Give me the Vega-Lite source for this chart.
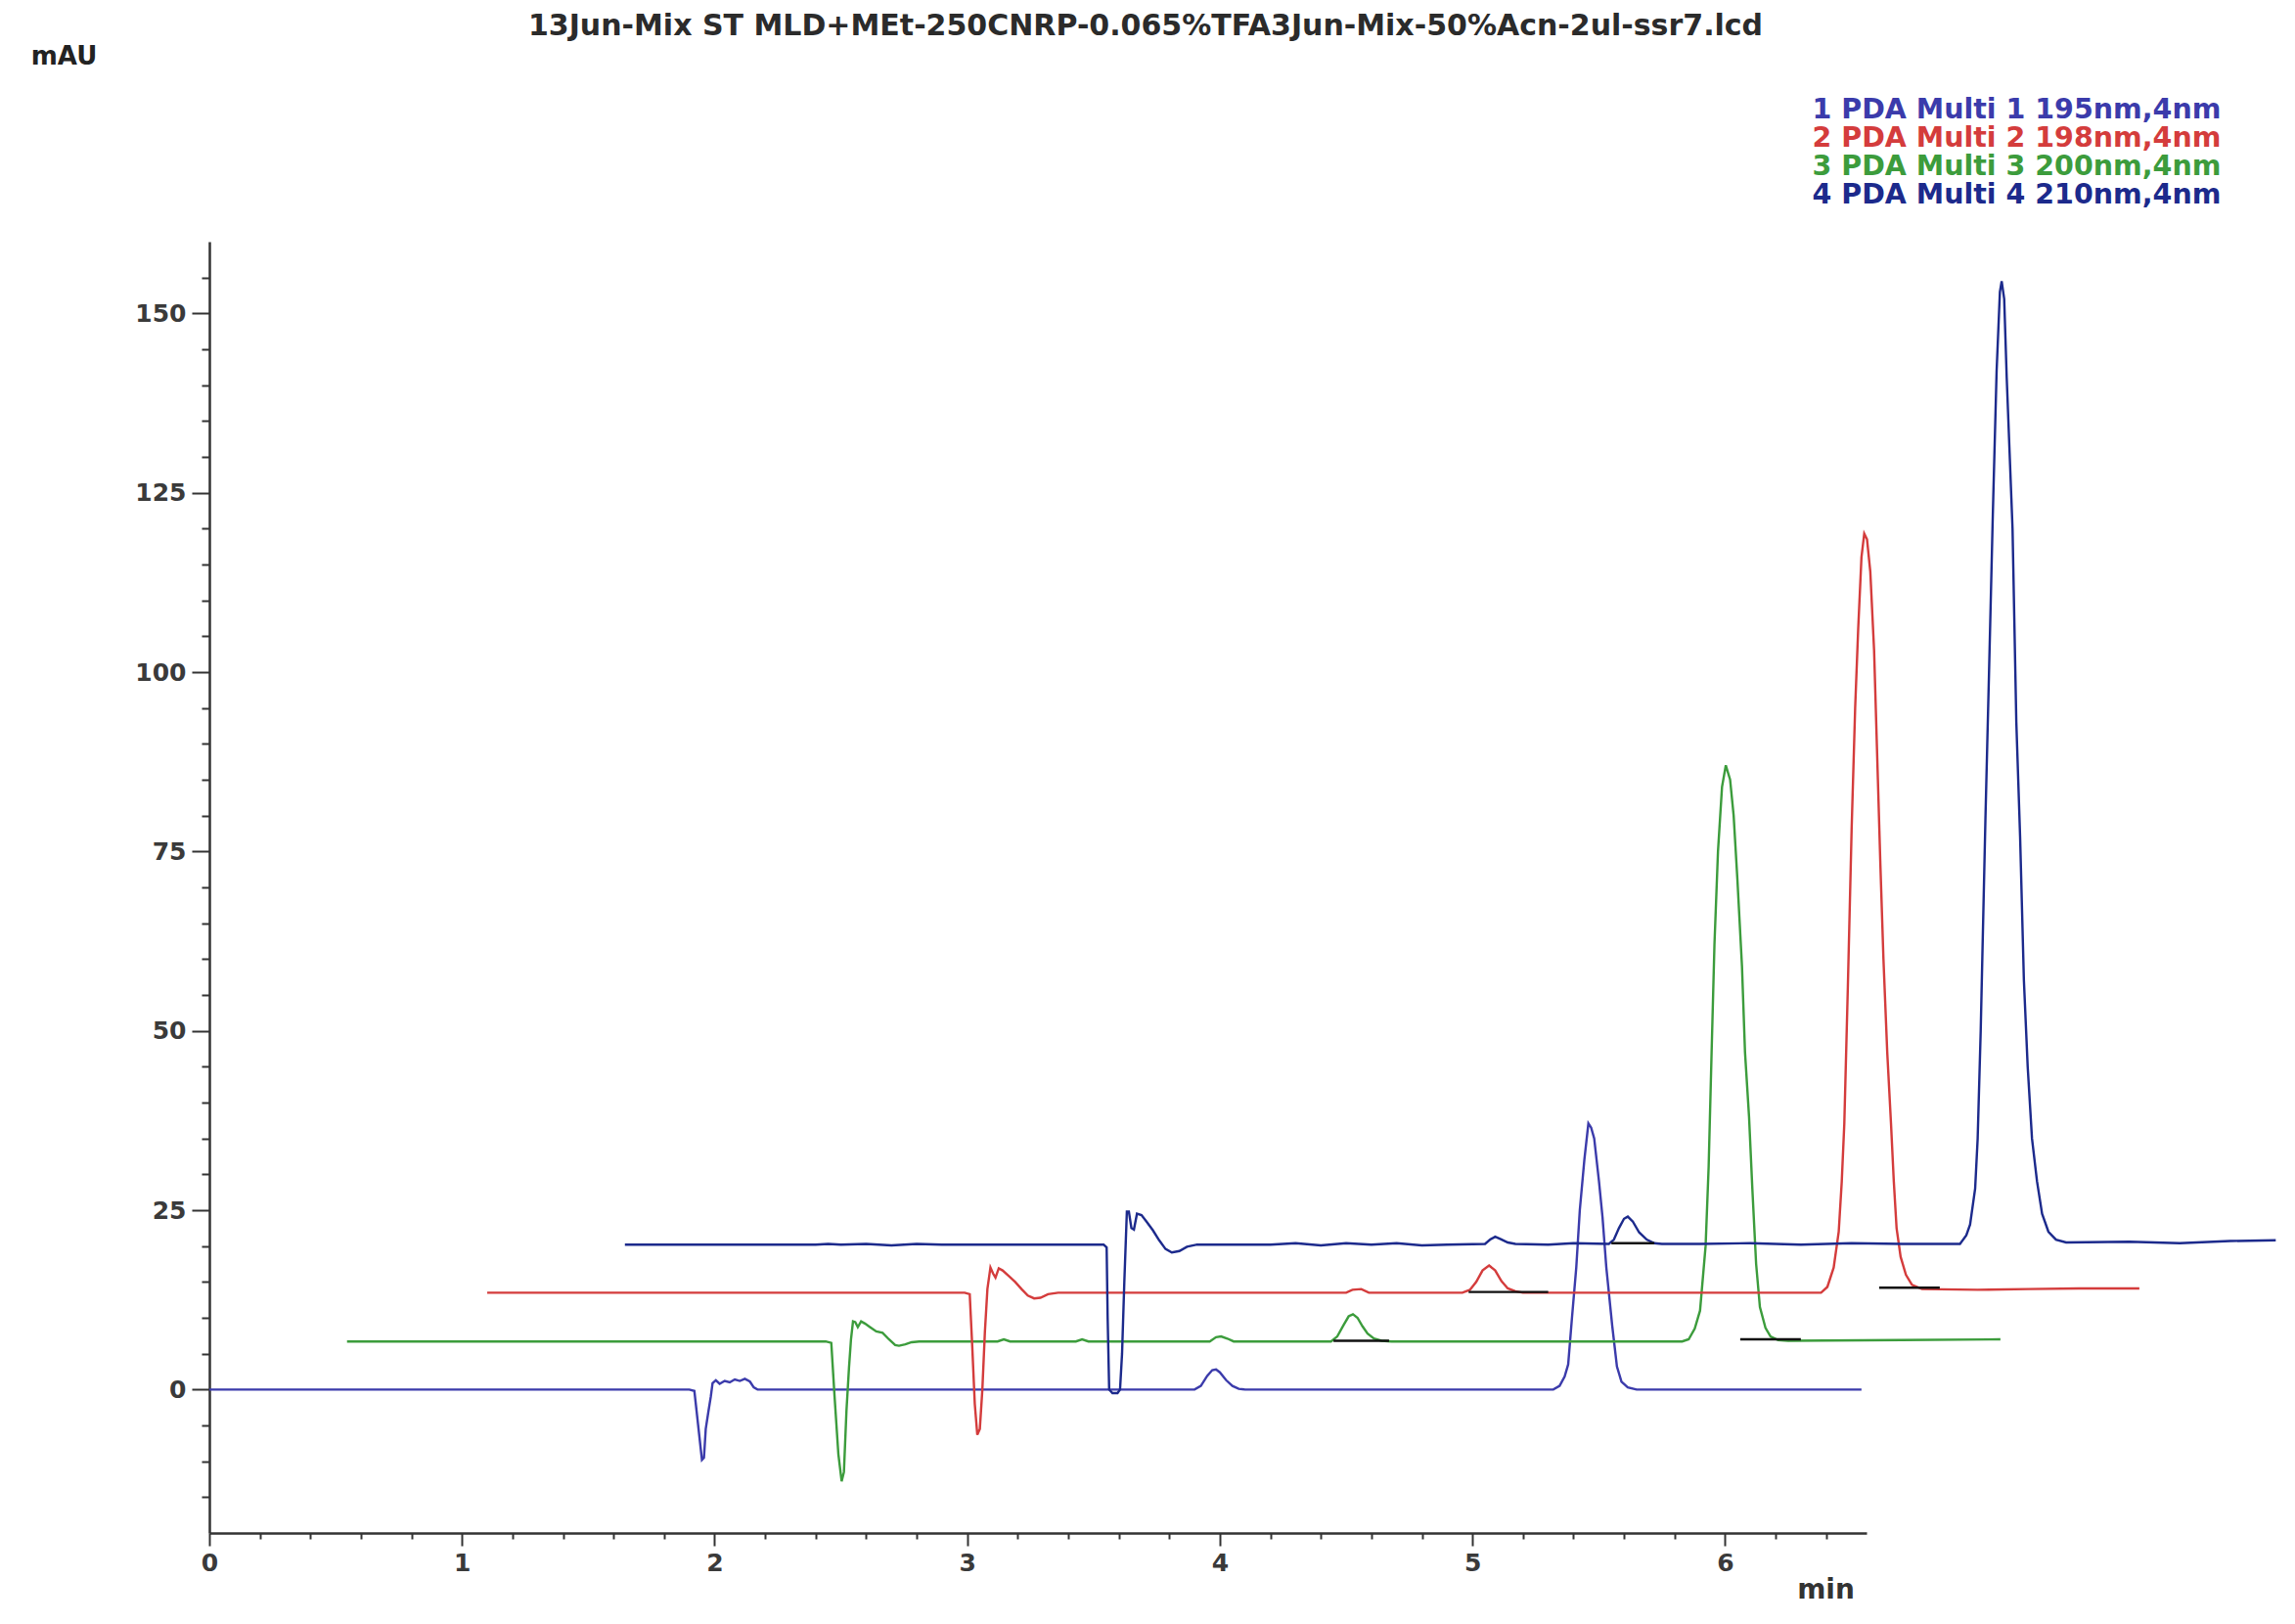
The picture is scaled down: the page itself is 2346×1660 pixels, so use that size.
{
"$schema": "https://vega.github.io/schema/vega-lite/v6.json",
"width": 1694, "height": 1320,
"autosize": {"type": "none"},
"padding": {"left": 214, "top": 247, "right": 438, "bottom": 93},
"background": "white",
"config": {"view": {"stroke": null}, "axis": {"labelOverlap": false, "labelSeparation": 0}},
"title": {"text": "13Jun-Mix ST MLD+MEt-250CNRP-0.065%TFA3Jun-Mix-50%Acn-2ul-ssr7.lcd", "font": "DejaVu Sans", "fontSize": 30, "fontWeight": "bold", "color": "#2b2b2b", "anchor": "middle", "frame": "group", "dx": 110, "offset": 2},
"data": {"values": [
{"s":"1","t":0,"v":0},{"s":"1","t":0.6,"v":0},{"s":"1","t":1.2,"v":0},{"s":"1","t":1.9,"v":0},{"s":"1","t":1.92,"v":-0.2},{"s":"1","t":1.935,"v":-5},{"s":"1","t":1.95,"v":-9.8},{"s":"1","t":1.958,"v":-9.5},{"s":"1","t":1.965,"v":-5.5},{"s":"1","t":1.975,"v":-3.2},{"s":"1","t":1.985,"v":-1},{"s":"1","t":1.992,"v":0.9},{"s":"1","t":2.005,"v":1.3},{"s":"1","t":2.02,"v":0.8},{"s":"1","t":2.04,"v":1.2},{"s":"1","t":2.06,"v":1.0},{"s":"1","t":2.08,"v":1.4},{"s":"1","t":2.1,"v":1.2},{"s":"1","t":2.12,"v":1.5},{"s":"1","t":2.14,"v":1.1},{"s":"1","t":2.155,"v":0.3},{"s":"1","t":2.17,"v":0},{"s":"1","t":3.0,"v":0},{"s":"1","t":3.9,"v":0},{"s":"1","t":3.925,"v":0.5},{"s":"1","t":3.95,"v":1.9},{"s":"1","t":3.97,"v":2.7},{"s":"1","t":3.985,"v":2.8},{"s":"1","t":4.0,"v":2.4},{"s":"1","t":4.025,"v":1.3},{"s":"1","t":4.05,"v":0.5},{"s":"1","t":4.075,"v":0.1},{"s":"1","t":4.1,"v":0},{"s":"1","t":5.32,"v":0},{"s":"1","t":5.345,"v":0.5},{"s":"1","t":5.365,"v":1.8},{"s":"1","t":5.379,"v":3.5},{"s":"1","t":5.394,"v":10},{"s":"1","t":5.411,"v":17},{"s":"1","t":5.425,"v":25},{"s":"1","t":5.443,"v":32},{"s":"1","t":5.459,"v":37.1},{"s":"1","t":5.47,"v":36.5},{"s":"1","t":5.482,"v":35},{"s":"1","t":5.501,"v":29},{"s":"1","t":5.515,"v":24},{"s":"1","t":5.53,"v":17},{"s":"1","t":5.553,"v":9},{"s":"1","t":5.572,"v":3.2},{"s":"1","t":5.59,"v":1.1},{"s":"1","t":5.615,"v":0.3},{"s":"1","t":5.65,"v":0},{"s":"1","t":6.2,"v":0},{"s":"1","t":6.54,"v":0},
{"s":"3","t":0.545,"v":6.7},{"s":"3","t":1.2,"v":6.7},{"s":"3","t":1.8,"v":6.7},{"s":"3","t":2.44,"v":6.7},{"s":"3","t":2.462,"v":6.5},{"s":"3","t":2.475,"v":-1},{"s":"3","t":2.49,"v":-9},{"s":"3","t":2.503,"v":-12.8},{"s":"3","t":2.512,"v":-11.5},{"s":"3","t":2.522,"v":-3},{"s":"3","t":2.532,"v":3},{"s":"3","t":2.54,"v":7},{"s":"3","t":2.548,"v":9.5},{"s":"3","t":2.557,"v":9.4},{"s":"3","t":2.567,"v":8.7},{"s":"3","t":2.58,"v":9.5},{"s":"3","t":2.595,"v":9.2},{"s":"3","t":2.615,"v":8.7},{"s":"3","t":2.64,"v":8.1},{"s":"3","t":2.665,"v":7.9},{"s":"3","t":2.69,"v":7.0},{"s":"3","t":2.715,"v":6.2},{"s":"3","t":2.73,"v":6.1},{"s":"3","t":2.755,"v":6.3},{"s":"3","t":2.78,"v":6.6},{"s":"3","t":2.81,"v":6.7},{"s":"3","t":3.12,"v":6.7},{"s":"3","t":3.145,"v":7.0},{"s":"3","t":3.17,"v":6.7},{"s":"3","t":3.43,"v":6.7},{"s":"3","t":3.455,"v":7.0},{"s":"3","t":3.48,"v":6.7},{"s":"3","t":3.96,"v":6.7},{"s":"3","t":3.985,"v":7.3},{"s":"3","t":4.005,"v":7.4},{"s":"3","t":4.03,"v":7.1},{"s":"3","t":4.055,"v":6.7},{"s":"3","t":4.44,"v":6.7},{"s":"3","t":4.465,"v":7.4},{"s":"3","t":4.49,"v":9.0},{"s":"3","t":4.51,"v":10.2},{"s":"3","t":4.527,"v":10.5},{"s":"3","t":4.545,"v":10.0},{"s":"3","t":4.565,"v":8.8},{"s":"3","t":4.585,"v":7.8},{"s":"3","t":4.61,"v":7.1},{"s":"3","t":4.64,"v":6.8},{"s":"3","t":4.68,"v":6.7},{"s":"3","t":5.83,"v":6.7},{"s":"3","t":5.856,"v":7.0},{"s":"3","t":5.88,"v":8.5},{"s":"3","t":5.901,"v":11},{"s":"3","t":5.923,"v":20},{"s":"3","t":5.935,"v":31},{"s":"3","t":5.946,"v":46},{"s":"3","t":5.958,"v":62},{"s":"3","t":5.972,"v":75},{"s":"3","t":5.988,"v":84},{"s":"3","t":6.003,"v":87},{"s":"3","t":6.02,"v":85},{"s":"3","t":6.034,"v":80},{"s":"3","t":6.049,"v":71},{"s":"3","t":6.067,"v":59},{"s":"3","t":6.079,"v":47},{"s":"3","t":6.095,"v":38},{"s":"3","t":6.108,"v":28},{"s":"3","t":6.123,"v":17.5},{"s":"3","t":6.138,"v":11.5},{"s":"3","t":6.16,"v":8.6},{"s":"3","t":6.18,"v":7.4},{"s":"3","t":6.21,"v":6.9},{"s":"3","t":6.25,"v":6.8},{"s":"3","t":6.7,"v":6.9},{"s":"3","t":7.09,"v":7.0},
{"s":"2","t":1.1,"v":13.5},{"s":"2","t":1.8,"v":13.5},{"s":"2","t":2.5,"v":13.5},{"s":"2","t":2.99,"v":13.5},{"s":"2","t":3.01,"v":13.3},{"s":"2","t":3.02,"v":6},{"s":"2","t":3.03,"v":-2},{"s":"2","t":3.04,"v":-6.3},{"s":"2","t":3.05,"v":-5.5},{"s":"2","t":3.06,"v":0},{"s":"2","t":3.07,"v":8},{"s":"2","t":3.08,"v":14},{"s":"2","t":3.092,"v":17.0},{"s":"2","t":3.102,"v":16.2},{"s":"2","t":3.112,"v":15.6},{"s":"2","t":3.125,"v":16.9},{"s":"2","t":3.14,"v":16.6},{"s":"2","t":3.165,"v":15.8},{"s":"2","t":3.19,"v":15.0},{"s":"2","t":3.215,"v":14.0},{"s":"2","t":3.24,"v":13.1},{"s":"2","t":3.265,"v":12.7},{"s":"2","t":3.29,"v":12.8},{"s":"2","t":3.32,"v":13.3},{"s":"2","t":3.36,"v":13.5},{"s":"2","t":3.7,"v":13.5},{"s":"2","t":4.1,"v":13.5},{"s":"2","t":4.5,"v":13.5},{"s":"2","t":4.525,"v":13.9},{"s":"2","t":4.56,"v":14.0},{"s":"2","t":4.59,"v":13.5},{"s":"2","t":4.96,"v":13.5},{"s":"2","t":4.99,"v":13.9},{"s":"2","t":5.015,"v":15.0},{"s":"2","t":5.04,"v":16.6},{"s":"2","t":5.066,"v":17.3},{"s":"2","t":5.09,"v":16.6},{"s":"2","t":5.115,"v":15.1},{"s":"2","t":5.14,"v":14.1},{"s":"2","t":5.17,"v":13.7},{"s":"2","t":5.2,"v":13.5},{"s":"2","t":6.0,"v":13.5},{"s":"2","t":6.38,"v":13.5},{"s":"2","t":6.405,"v":14.3},{"s":"2","t":6.43,"v":17},{"s":"2","t":6.45,"v":22},{"s":"2","t":6.462,"v":29},{"s":"2","t":6.472,"v":37},{"s":"2","t":6.486,"v":56},{"s":"2","t":6.501,"v":78},{"s":"2","t":6.515,"v":95},{"s":"2","t":6.527,"v":106},{"s":"2","t":6.54,"v":116},{"s":"2","t":6.551,"v":119.3},{"s":"2","t":6.562,"v":118.5},{"s":"2","t":6.575,"v":114},{"s":"2","t":6.59,"v":103},{"s":"2","t":6.605,"v":85},{"s":"2","t":6.615,"v":73},{"s":"2","t":6.627,"v":60},{"s":"2","t":6.642,"v":47},{"s":"2","t":6.657,"v":37},{"s":"2","t":6.668,"v":29},{"s":"2","t":6.679,"v":22.5},{"s":"2","t":6.695,"v":18.5},{"s":"2","t":6.716,"v":16},{"s":"2","t":6.74,"v":14.6},{"s":"2","t":6.78,"v":14.0},{"s":"2","t":7.0,"v":13.9},{"s":"2","t":7.2,"v":14.0},{"s":"2","t":7.4,"v":14.1},{"s":"2","t":7.64,"v":14.1},
{"s":"4","t":1.645,"v":20.2},{"s":"4","t":2.2,"v":20.2},{"s":"4","t":2.4,"v":20.2},{"s":"4","t":2.45,"v":20.3},{"s":"4","t":2.5,"v":20.2},{"s":"4","t":2.6,"v":20.3},{"s":"4","t":2.7,"v":20.1},{"s":"4","t":2.8,"v":20.3},{"s":"4","t":2.9,"v":20.2},{"s":"4","t":3.3,"v":20.2},{"s":"4","t":3.54,"v":20.2},{"s":"4","t":3.552,"v":19.8},{"s":"4","t":3.556,"v":10},{"s":"4","t":3.562,"v":0},{"s":"4","t":3.575,"v":-0.5},{"s":"4","t":3.595,"v":-0.5},{"s":"4","t":3.605,"v":0},{"s":"4","t":3.613,"v":5},{"s":"4","t":3.622,"v":15},{"s":"4","t":3.632,"v":24.8},{"s":"4","t":3.64,"v":24.8},{"s":"4","t":3.65,"v":22.5},{"s":"4","t":3.66,"v":22.3},{"s":"4","t":3.672,"v":24.5},{"s":"4","t":3.69,"v":24.3},{"s":"4","t":3.71,"v":23.4},{"s":"4","t":3.735,"v":22.2},{"s":"4","t":3.76,"v":20.8},{"s":"4","t":3.785,"v":19.6},{"s":"4","t":3.81,"v":19.1},{"s":"4","t":3.84,"v":19.3},{"s":"4","t":3.87,"v":19.9},{"s":"4","t":3.91,"v":20.2},{"s":"4","t":4.2,"v":20.2},{"s":"4","t":4.3,"v":20.4},{"s":"4","t":4.4,"v":20.1},{"s":"4","t":4.5,"v":20.4},{"s":"4","t":4.6,"v":20.2},{"s":"4","t":4.7,"v":20.4},{"s":"4","t":4.8,"v":20.1},{"s":"4","t":4.9,"v":20.2},{"s":"4","t":5.05,"v":20.3},{"s":"4","t":5.07,"v":20.9},{"s":"4","t":5.09,"v":21.3},{"s":"4","t":5.11,"v":21.0},{"s":"4","t":5.14,"v":20.5},{"s":"4","t":5.17,"v":20.3},{"s":"4","t":5.3,"v":20.2},{"s":"4","t":5.4,"v":20.4},{"s":"4","t":5.54,"v":20.3},{"s":"4","t":5.56,"v":20.9},{"s":"4","t":5.58,"v":22.5},{"s":"4","t":5.6,"v":23.8},{"s":"4","t":5.615,"v":24.1},{"s":"4","t":5.635,"v":23.4},{"s":"4","t":5.66,"v":21.9},{"s":"4","t":5.69,"v":20.9},{"s":"4","t":5.72,"v":20.4},{"s":"4","t":5.75,"v":20.3},{"s":"4","t":5.9,"v":20.3},{"s":"4","t":6.1,"v":20.4},{"s":"4","t":6.3,"v":20.2},{"s":"4","t":6.5,"v":20.4},{"s":"4","t":6.7,"v":20.3},{"s":"4","t":6.93,"v":20.3},{"s":"4","t":6.955,"v":21.5},{"s":"4","t":6.97,"v":23},{"s":"4","t":6.99,"v":28},{"s":"4","t":7.0,"v":35},{"s":"4","t":7.012,"v":50},{"s":"4","t":7.031,"v":80},{"s":"4","t":7.045,"v":100},{"s":"4","t":7.06,"v":122},{"s":"4","t":7.075,"v":142},{"s":"4","t":7.088,"v":153},{"s":"4","t":7.095,"v":154.5},{"s":"4","t":7.105,"v":152},{"s":"4","t":7.115,"v":141},{"s":"4","t":7.138,"v":120},{"s":"4","t":7.153,"v":93},{"s":"4","t":7.168,"v":77},{"s":"4","t":7.183,"v":57},{"s":"4","t":7.198,"v":45},{"s":"4","t":7.215,"v":35},{"s":"4","t":7.235,"v":29},{"s":"4","t":7.255,"v":24.5},{"s":"4","t":7.28,"v":22},{"s":"4","t":7.31,"v":20.9},{"s":"4","t":7.35,"v":20.5},{"s":"4","t":7.6,"v":20.6},{"s":"4","t":7.8,"v":20.4},{"s":"4","t":8.0,"v":20.7},{"s":"4","t":8.18,"v":20.8},
{"s":"ba","t":4.45,"v":6.8},{"s":"ba","t":4.67,"v":6.8},
{"s":"bb","t":4.985,"v":13.6},{"s":"bb","t":5.3,"v":13.6},
{"s":"bc","t":6.06,"v":7.0},{"s":"bc","t":6.3,"v":7.0},
{"s":"bd","t":6.61,"v":14.2},{"s":"bd","t":6.85,"v":14.2},
{"s":"be","t":5.55,"v":20.4},{"s":"be","t":5.72,"v":20.4}
]},
"mark": {"type": "line", "strokeWidth": 2.4},
"encoding": {
"x": {"field": "t", "type": "quantitative",
 "scale": {"domain": [0, 6.56], "nice": false, "zero": false},
 "axis": {"values": [0,0.2,0.4,0.6,0.8,1,1.2,1.4,1.6,1.8,2,2.2,2.4,2.6,2.8,3,3.2,3.4,3.6,3.8,4,4.2,4.4,4.6,4.8,5,5.2,5.4,5.6,5.8,6,6.2,6.4],
  "labelExpr": "indexof([0,1,2,3,4,5,6], datum.value) >= 0 ? '' + datum.value : ''",
  "labelOverlap": false, "labelFlush": false,
  "tickSize": {"condition": {"test": "indexof([0,1,2,3,4,5,6], datum.value) >= 0", "value": 13}, "value": 6},
  "tickColor": "#333", "tickWidth": 2, "domainColor": "#333", "domainWidth": 2.5, "grid": false,
  "labelFont": "DejaVu Sans", "labelFontWeight": "bold", "labelFontSize": 25, "labelColor": "#3a3a3a", "labelPadding": 5,
  "title": "min", "titleX": 1652, "titleY": 58, "titleAlign": "center", "titleBaseline": "middle", "titleAnchor": null,
  "titleFont": "DejaVu Sans", "titleFontSize": 28, "titleFontWeight": "bold", "titleColor": "#333"}},
"y": {"field": "v", "type": "quantitative",
 "scale": {"domain": [-20, 160], "nice": false, "zero": false},
 "axis": {"values": [-15,-10,-5,0,5,10,15,20,25,30,35,40,45,50,55,60,65,70,75,80,85,90,95,100,105,110,115,120,125,130,135,140,145,150,155],
  "labelExpr": "indexof([0,25,50,75,100,125,150], datum.value) >= 0 ? '' + datum.value : ''",
  "labelOverlap": false, "labelFlush": false,
  "tickSize": {"condition": {"test": "indexof([0,25,50,75,100,125,150], datum.value) >= 0", "value": 18}, "value": 8},
  "tickColor": "#333", "tickWidth": 2, "domainColor": "#333", "domainWidth": 2.5, "grid": false,
  "labelFont": "DejaVu Sans", "labelFontWeight": "bold", "labelFontSize": 25, "labelColor": "#3a3a3a", "labelPadding": 6,
  "title": "mAU", "titleAngle": 0, "titleX": -149, "titleY": -190, "titleAlign": "center", "titleBaseline": "middle", "titleAnchor": null,
  "titleFont": "DejaVu Sans", "titleFontSize": 26, "titleFontWeight": "bold", "titleColor": "#222"}},
"color": {"field": "s", "type": "nominal",
 "scale": {"domain": ["1","2","3","4","ba","bb","bc","bd","be"], "range": ["#3b3bab", "#d43c3c", "#3c9c3c", "#1c2a8c", "#111111", "#111111", "#111111", "#111111", "#111111"]},
 "legend": {"values": ["1","2","3","4"], "orient": "none", "legendX": 1610, "legendY": -149, "title": null, "padding": 0,
  "symbolSize": 0, "symbolOpacity": 0, "symbolStrokeWidth": 0, "labelOffset": 0, "rowPadding": 0,
  "labelFont": "DejaVu Sans", "labelFontSize": 28.5, "labelFontWeight": "bold", "labelLimit": 900,
  "labelExpr": "{'1':'1 PDA Multi 1 195nm,4nm','2':'2 PDA Multi 2 198nm,4nm','3':'3 PDA Multi 3 200nm,4nm','4':'4 PDA Multi 4 210nm,4nm'}[datum.label]",
  "encode": {"labels": {"update": {"fill": {"scale": "color", "field": "value"}}}}}}
}
}
